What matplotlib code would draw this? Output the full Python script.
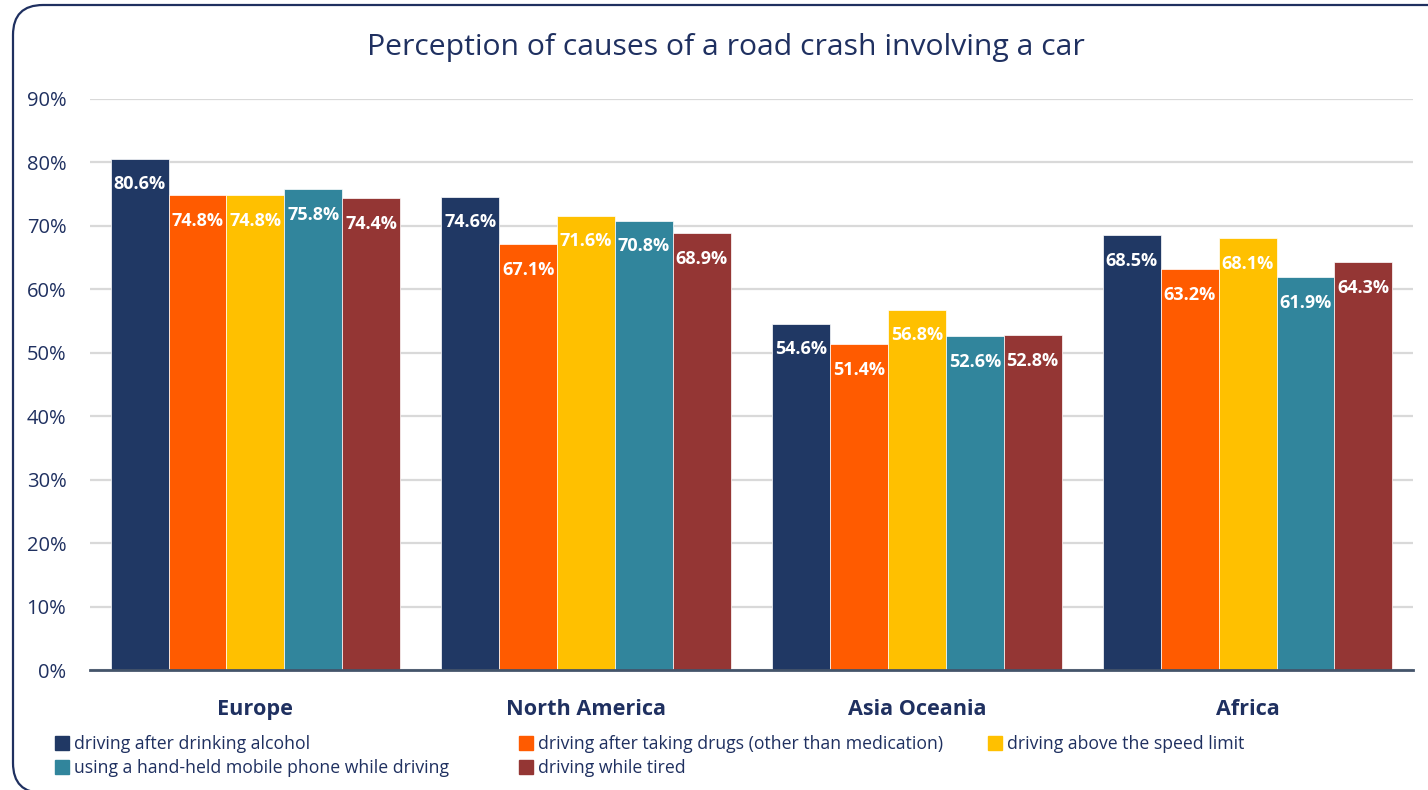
import numpy as np
import matplotlib.pyplot as plt
from matplotlib.patches import FancyBboxPatch, Patch

plt.rcParams['font.family'] = ['Open Sans', 'DejaVu Sans']

regions = ["Europe", "North America", "Asia Oceania", "Africa"]
series = ["driving after drinking alcohol",
          "driving after taking drugs (other than medication)",
          "driving above the speed limit",
          "using a hand-held mobile phone while driving",
          "driving while tired"]
alcohol = [80.6, 74.6, 54.6, 68.5]
drugs = [74.8, 67.1, 51.4, 63.2]
speed = [74.8, 71.6, 56.8, 68.1]
phone = [75.8, 70.8, 52.6, 61.9]
tired = [74.4, 68.9, 52.8, 64.3]
values = [alcohol, drugs, speed, phone, tired]
colors = ["#203864", "#FF5B00", "#FFC000", "#31859C", "#943634"]
yticks = [0, 10, 20, 30, 40, 50, 60, 70, 80, 90]

navy = "#1F3060"

fig = plt.figure(figsize=(14.28, 7.9), dpi=100)
ax = fig.add_axes([90 / 1428, 1 - 670 / 790, 1323 / 1428, (670 - 99) / 790])

x = np.arange(len(regions))
w = 0.875 / 5
for i, (name, vals, c) in enumerate(zip(series, values, colors)):
    bars = ax.bar(x + (i - 2) * w, vals, w, color=c, edgecolor="white", linewidth=0.5, label=name, zorder=2)
    for b, v in zip(bars, vals):
        ax.annotate(f"{v:.1f}%", (b.get_x() + b.get_width() / 2, v), xytext=(0, -12),
                    textcoords="offset points", ha="center", va="top",
                    color="white", fontsize=13, fontweight="bold", zorder=3)

ax.set_xlim(-0.5, 3.5)
ax.set_ylim(0, 90)
ax.set_yticks(yticks)
ax.set_yticklabels([f"{t}%" for t in yticks], fontsize=14.5, color=navy)
ax.set_xticks(x)
ax.set_xticklabels(regions, fontsize=15.6, fontweight="bold", color=navy)
ax.tick_params(axis="both", length=0)
ax.tick_params(axis="x", pad=21)
ax.tick_params(axis="y", pad=17)
ax.grid(axis="y", color="#D9D9D9", linewidth=1.6, zorder=0)
ax.set_axisbelow(True)
for s in ["top", "right", "left"]:
    ax.spines[s].set_visible(False)
ax.spines["bottom"].set_color("#44546A")
ax.spines["bottom"].set_linewidth(2)
ax.spines["bottom"].set_zorder(4)

fig.text(726 / 1428, 1 - 48 / 790, "Perception of causes of a road crash involving a car",
         ha="center", va="center", fontsize=21.7, color=navy)

# legend, three columns placed like the original
handles = [Patch(color=c, label=n) for c, n in zip(colors, series)]
cols = [([0, 3], 55), ([1, 4], 519), ([2], 988)]
for idx, xpx in cols:
    leg = fig.legend([handles[j] for j in idx], [series[j] for j in idx],
                     loc="upper left", bbox_to_anchor=(xpx / 1428, 1 - 735 / 790),
                     frameon=False, fontsize=12.7, handlelength=0.8, handleheight=0.8,
                     handletextpad=0.3, labelspacing=0.35, borderaxespad=0, borderpad=0)
    for t in leg.get_texts():
        t.set_color(navy)

border = FancyBboxPatch((0.13, -0.03), 15, 7.85 + 0.03, boxstyle="round,pad=0,rounding_size=0.3",
                        transform=fig.dpi_scale_trans, fill=False, edgecolor=navy, linewidth=1.6)
fig.add_artist(border)

fig.savefig("out.png", dpi=100)
